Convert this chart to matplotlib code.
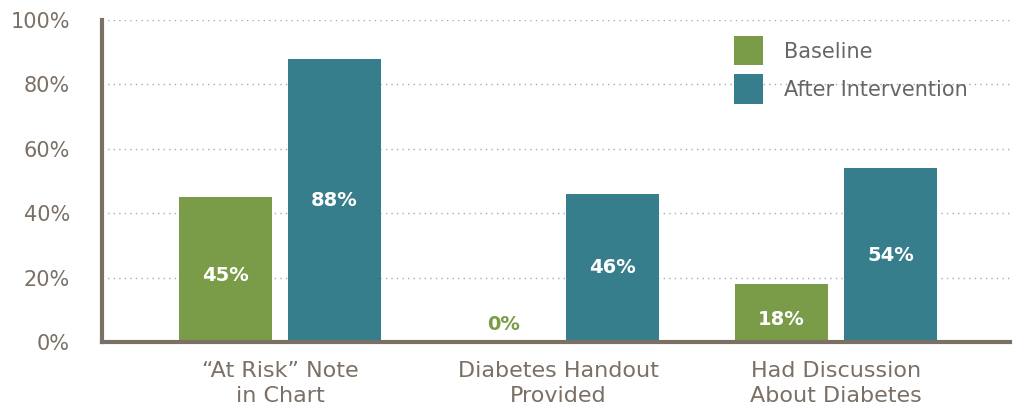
import matplotlib
matplotlib.use("Agg")
import matplotlib.pyplot as plt
from matplotlib.patches import Patch
import numpy as np

categories = ["\u201cAt Risk\u201d Note\nin Chart", "Diabetes Handout\nProvided", "Had Discussion\nAbout Diabetes"]
baseline = [45, 0, 18]
after = [88, 46, 54]
y_ticks = [0, 20, 40, 60, 80, 100]
series_names = ["Baseline", "After Intervention"]

GREEN = "#7a9c48"
TEAL = "#377e8c"
AXIS = "#7a7065"
TEXT = "#7a7065"

plt.rcParams["font.family"] = ["DejaVu Sans"]

fig = plt.figure(figsize=(10.26, 4.08), dpi=100)
ax = fig.add_axes([102 / 1026, 66 / 408, 908 / 1026, 322 / 408])

x = np.arange(len(categories))
w = 0.335
off = 0.196
b1 = ax.bar(x - off, baseline, width=w, color=GREEN, zorder=3)
b2 = ax.bar(x + off, after, width=w, color=TEAL, zorder=3)

for rect, v in zip(b1, baseline):
    cx = rect.get_x() + rect.get_width() / 2
    if v == 0:
        ax.text(cx, 2.5, f"{v}%", ha="center", va="bottom", color=GREEN,
                fontsize=14, fontweight="bold")
    else:
        ax.text(cx, v / 2 - 2, f"{v}%", ha="center", va="center", color="white",
                fontsize=14, fontweight="bold")
for rect, v in zip(b2, after):
    cx = rect.get_x() + rect.get_width() / 2
    ax.text(cx, v / 2, f"{v}%", ha="center", va="center", color="white",
            fontsize=14, fontweight="bold")

ax.set_xlim(-0.64, 2.626)
ax.set_ylim(0, 100)
ax.set_yticks(y_ticks)
ax.set_yticklabels([f"{t}%" for t in y_ticks], color=TEXT, fontsize=15)
ax.set_xticks(x)
ax.set_xticklabels(categories, color=TEXT, fontsize=16, linespacing=1.3)
ax.tick_params(axis="both", length=0)
ax.tick_params(axis="y", pad=23)
ax.tick_params(axis="x", pad=14)

ax.yaxis.grid(True, linestyle=(0, (1, 3)), color="#aaaaaa", linewidth=1, zorder=0)
for s in ["top", "right"]:
    ax.spines[s].set_visible(False)
for s in ["left", "bottom"]:
    ax.spines[s].set_color(AXIS)
    ax.spines[s].set_linewidth(3)
    ax.spines[s].set_zorder(4)

handles = [Patch(facecolor=GREEN), Patch(facecolor=TEAL)]
leg = ax.legend(handles, series_names, loc="upper left", bbox_to_anchor=(0.675, 1.008),
                frameon=False, fontsize=15, handlelength=1.4, handleheight=1.78,
                handletextpad=1.0, labelspacing=0.43)
for t in leg.get_texts():
    t.set_color("#666666")

fig.savefig("out.png", dpi=100)
